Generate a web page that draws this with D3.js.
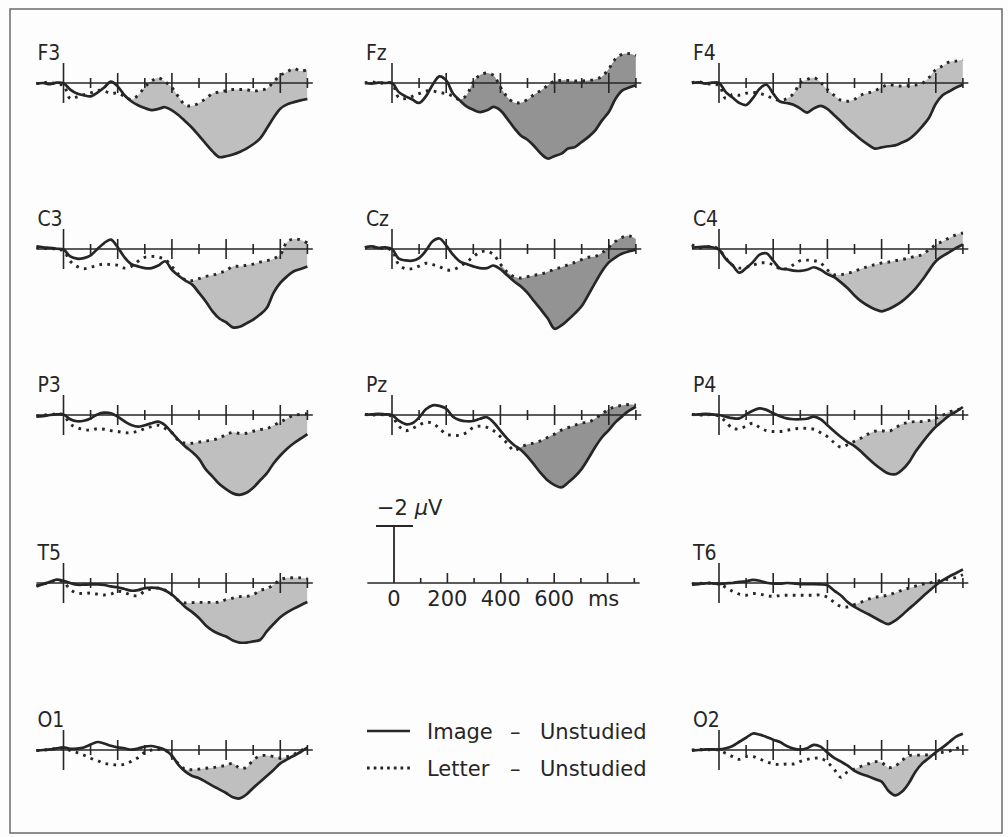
<!DOCTYPE html>
<html><head><meta charset="utf-8">
<script src="https://cdn.jsdelivr.net/npm/d3@7"></script>
<style>body{margin:0;background:#fff}</style>
</head><body><svg id="c" width="1008" height="837"></svg>
<script>
// ---------- data (µV, positive plotted downward) ----------
const times = [-100,-75,-50,-25,0,25,50,75,100,125,150,175,200,225,250,275,300,325,350,375,400,425,450,475,500,525,550,575,600,625,650,675,700,725,750,775,800,825,850,875,900];
const panelTicks = [0,100,200,300,400,500,600,700,800,900];
const majorTicks = [200,400,600,800];
const scaleTickLabels = ["0","200","400","600","ms"];
const scaleTickTimes = [0,200,400,600,800];
const channels = ["F3","Fz","F4","C3","Cz","C4","P3","Pz","P4","T5","T6","O1","O2"];
const fillStart = {F3:250,Fz:250,F4:250,C3:400,Cz:400,C4:400,P3:400,Pz:400,P4:400,T5:400,T6:400,O1:400,O2:400};
const legendLabels = ["Image", "Letter"];
const legendCondition = "Unstudied";
const scaleBarLabel = "−2 ";

const F3_image  = [0.02,0,0.04,-0.01,0.01,0.23,0.37,0.43,0.47,0.34,0.16,-0.05,0.12,0.43,0.64,0.78,0.88,0.95,0.91,0.85,0.96,1.13,1.35,1.58,1.85,2.13,2.40,2.60,2.57,2.51,2.42,2.30,2.15,1.95,1.60,1.22,0.90,0.75,0.67,0.61,0.56];
const F3_letter = [0.02,0,-0.04,0.06,0.08,0.55,0.49,0.41,0.35,0.26,0.28,0.37,0.35,0.47,0.58,0.43,0.14,-0.07,-0.18,-0.04,0.16,0.49,0.78,0.80,0.70,0.55,0.37,0.32,0.27,0.23,0.23,0.23,0.29,0.25,0.20,-0.04,-0.27,-0.39,-0.51,-0.42,-0.47];
const Fz_image  = [0,0.02,-0.01,0,0,0.32,0.47,0.58,0.70,0.47,0.06,-0.23,-0.09,0.37,0.61,0.82,0.94,1.02,0.96,0.84,0.96,1.25,1.57,1.84,1.99,2.22,2.48,2.65,2.56,2.48,2.30,2.25,2.07,1.89,1.66,1.31,1.02,0.55,0.26,0.16,0.08];
const Fz_letter = [0,-0.04,0.02,-0.02,0.02,0.51,0.55,0.47,0.37,0.28,0.28,0.34,0.37,0.47,0.58,0.43,-0.04,-0.28,-0.35,-0.26,0.14,0.49,0.68,0.69,0.58,0.40,0.26,0.08,-0.07,-0.09,-0.09,-0.07,-0.07,-0.09,-0.13,-0.23,-0.50,-0.85,-1.01,-1.03,-0.97];
const F4_image  = [0,-0.02,0.02,-0.01,0,0.32,0.51,0.70,0.77,0.53,0.20,0.06,0.37,0.65,0.70,0.76,0.90,1.04,0.89,0.80,0.91,1.13,1.35,1.59,1.79,1.99,2.16,2.30,2.26,2.22,2.19,2.09,1.98,1.78,1.52,1.22,0.73,0.43,0.29,0.16,0.06];
const F4_letter = [-0.01,-0.04,0.02,0.05,0.08,0.55,0.40,0.43,0.36,0.33,0.37,0.44,0.55,0.61,0.55,0.37,0,-0.12,-0.19,-0.02,0.23,0.43,0.61,0.64,0.57,0.42,0.35,0.27,0.15,0.06,0.09,0.11,0.09,0.07,0.01,-0.19,-0.47,-0.60,-0.74,-0.77,-0.82];
const C3_image  = [-0.09,-0.06,-0.04,-0.01,0.02,0.26,0.34,0.32,0.22,0,-0.21,-0.33,-0.06,0.29,0.53,0.61,0.67,0.67,0.58,0.43,0.73,0.94,1.11,1.25,1.54,1.84,2.19,2.44,2.57,2.75,2.73,2.61,2.48,2.30,2.07,1.54,1.19,0.96,0.78,0.70,0.61];
const C3_letter = [-0.06,-0.01,-0.04,0.02,0.06,0.43,0.61,0.69,0.64,0.57,0.53,0.55,0.57,0.67,0.61,0.43,0.29,0.26,0.29,0.37,0.61,0.90,1.08,1.11,1.04,0.96,0.92,0.84,0.76,0.61,0.61,0.57,0.53,0.46,0.41,0.34,0.20,-0.25,-0.35,-0.32,-0.21];
const Cz_image  = [-0.06,-0.09,-0.04,-0.06,0,0.34,0.40,0.41,0.32,0.06,-0.27,-0.37,-0.13,0.20,0.43,0.53,0.61,0.67,0.67,0.58,0.71,0.92,1.13,1.31,1.54,1.84,2.13,2.44,2.80,2.68,2.48,2.26,2.00,1.60,1.18,0.78,0.47,0.29,0.16,0.08,0.02];
const Cz_letter = [-0.04,-0.09,-0.01,-0.04,0.06,0.55,0.69,0.69,0.60,0.50,0.55,0.62,0.73,0.73,0.61,0.46,0.27,0.11,0.08,0.20,0.53,0.81,0.97,1.02,0.97,0.92,0.88,0.80,0.71,0.64,0.55,0.47,0.37,0.29,0.26,0.13,-0.06,-0.27,-0.41,-0.46,-0.36];
const C4_image  = [-0.04,-0.07,-0.08,-0.06,0.02,0.35,0.57,0.83,0.67,0.46,0.20,0.15,0.41,0.68,0.71,0.76,0.77,0.73,0.64,0.73,0.88,0.99,1.17,1.38,1.63,1.84,1.99,2.11,2.19,2.11,1.99,1.84,1.63,1.39,1.09,0.75,0.43,0.25,0.11,-0.04,-0.16];
const C4_letter = [-0.15,-0.04,-0.07,-0.09,0.02,0.32,0.57,0.67,0.64,0.57,0.49,0.49,0.55,0.69,0.69,0.55,0.41,0.39,0.41,0.49,0.73,0.90,0.90,0.85,0.78,0.69,0.61,0.55,0.49,0.46,0.41,0.37,0.32,0.25,0.20,0.02,-0.15,-0.27,-0.39,-0.50,-0.56];
const P3_image  = [0.06,0.04,0,-0.02,-0.02,0.15,0.22,0.20,0.12,-0.02,-0.08,-0.06,0.06,0.22,0.35,0.41,0.36,0.29,0.23,0.36,0.62,0.88,1.11,1.30,1.54,1.91,2.16,2.42,2.60,2.75,2.80,2.73,2.55,2.30,2.05,1.70,1.42,1.18,0.99,0.83,0.67];
const P3_letter = [0.04,0,0,-0.04,0,0.32,0.44,0.51,0.53,0.48,0.50,0.55,0.58,0.62,0.62,0.57,0.48,0.41,0.36,0.47,0.62,0.90,0.99,0.99,0.95,0.91,0.88,0.81,0.69,0.61,0.65,0.64,0.57,0.51,0.48,0.36,0.25,0.12,0.01,-0.02,-0.04];
const Pz_image  = [-0.02,-0.02,-0.04,-0.02,0,0.20,0.32,0.29,0.09,-0.20,-0.34,-0.32,-0.22,0.06,0.18,0.22,0.21,0.13,0.08,0.26,0.55,0.83,1.05,1.22,1.46,1.75,2.05,2.30,2.46,2.54,2.37,2.16,1.89,1.52,1.12,0.78,0.53,0.25,0.04,-0.15,-0.29];
const Pz_letter = [-0.02,0,-0.02,0,0.04,0.39,0.55,0.47,0.35,0.26,0.29,0.47,0.67,0.71,0.71,0.62,0.44,0.39,0.43,0.55,0.76,0.99,1.25,1.13,1.03,0.98,0.90,0.78,0.67,0.53,0.44,0.36,0.28,0.25,0.12,-0.04,-0.20,-0.29,-0.34,-0.37,-0.35];
const P4_image  = [-0.02,-0.02,-0.04,-0.02,0,0.06,0.11,0.12,-0.02,-0.15,-0.23,-0.18,-0.06,0.04,0.12,0.15,0.15,0.13,0.06,0.15,0.36,0.57,0.77,0.95,1.09,1.29,1.52,1.73,1.91,2.05,2.08,1.93,1.67,1.29,0.97,0.67,0.41,0.21,0.01,-0.12,-0.28];
const P4_letter = [-0.02,0,0,-0.02,0.04,0.23,0.47,0.48,0.39,0.29,0.44,0.55,0.58,0.58,0.54,0.49,0.47,0.47,0.50,0.62,0.76,0.97,1.13,1.04,0.92,0.81,0.67,0.57,0.55,0.58,0.46,0.32,0.26,0.23,0.23,0.19,0.12,0.01,-0.11,-0.18,-0.22];
const T5_image  = [0.12,0.04,-0.04,-0.12,-0.08,0,0.06,0.06,0.05,0.05,0.07,0.12,0.15,0.21,0.27,0.25,0.18,0.16,0.18,0.26,0.41,0.62,0.85,1.02,1.23,1.49,1.67,1.79,1.88,2.02,2.09,2.09,2.05,2.00,1.70,1.44,1.20,1.03,0.90,0.78,0.67];
const T5_letter = [0.09,0.04,-0.04,-0.08,-0.04,0.23,0.35,0.37,0.35,0.39,0.42,0.39,0.29,0.33,0.43,0.44,0.29,0.21,0.18,0.25,0.41,0.62,0.70,0.69,0.68,0.68,0.68,0.67,0.58,0.53,0.48,0.47,0.41,0.26,0.20,0.06,-0.11,-0.18,-0.18,-0.18,-0.15];
const T6_image  = [0.06,0.04,0.01,0.01,0.04,0.01,0,-0.04,-0.06,-0.11,-0.08,-0.01,0.02,0.02,0,0.01,0.04,0.04,0.04,0.05,0.08,0.27,0.44,0.67,0.84,0.97,1.09,1.22,1.35,1.44,1.32,1.13,0.91,0.71,0.49,0.28,0.08,-0.09,-0.23,-0.35,-0.48];
const T6_letter = [0.04,0.01,0.02,0,0.04,0.15,0.29,0.39,0.43,0.37,0.39,0.44,0.47,0.44,0.43,0.43,0.43,0.43,0.43,0.42,0.50,0.68,0.82,0.84,0.76,0.67,0.57,0.50,0.47,0.42,0.34,0.25,0.18,0.11,0.04,0,-0.05,-0.11,-0.14,-0.20,-0.29];
const O1_image  = [0.02,0,-0.02,-0.06,-0.09,-0.04,-0.05,-0.09,-0.19,-0.28,-0.23,-0.15,-0.09,-0.06,-0.01,-0.05,-0.12,-0.14,-0.09,0,0.20,0.53,0.76,0.91,0.99,1.12,1.26,1.38,1.51,1.66,1.70,1.56,1.33,1.12,0.91,0.70,0.47,0.33,0.20,0.07,-0.08];
const O1_letter = [0.02,0,-0.02,-0.05,-0.06,0.02,0.09,0.18,0.29,0.37,0.47,0.50,0.53,0.50,0.40,0.27,0.08,0,-0.02,0,0.23,0.49,0.68,0.69,0.67,0.64,0.62,0.58,0.54,0.47,0.64,0.61,0.35,0.21,0.19,0.23,0.28,0.23,0.15,0.02,-0.09];
const O2_image  = [0.02,0,-0.02,-0.02,-0.02,-0.06,-0.14,-0.29,-0.43,-0.58,-0.54,-0.46,-0.36,-0.28,-0.14,-0.05,-0.01,-0.06,-0.18,-0.12,0.09,0.28,0.41,0.55,0.73,0.84,0.92,1.02,1.11,1.43,1.59,1.46,1.17,0.76,0.47,0.28,0.08,-0.09,-0.28,-0.47,-0.57];
const O2_letter = [0,-0.02,0,-0.02,0,0.12,0.23,0.33,0.23,0.23,0.32,0.41,0.49,0.51,0.49,0.49,0.40,0.33,0.29,0.29,0.43,0.68,0.96,0.76,0.67,0.57,0.49,0.41,0.44,0.62,0.56,0.37,0.20,0.18,0.18,0.16,0.13,0.08,0.04,-0.05,-0.12];

const imageSeries = {F3:F3_image,Fz:Fz_image,F4:F4_image,C3:C3_image,Cz:Cz_image,C4:C4_image,P3:P3_image,Pz:Pz_image,P4:P4_image,T5:T5_image,T6:T6_image,O1:O1_image,O2:O2_image};
const letterSeries = {F3:F3_letter,Fz:Fz_letter,F4:F4_letter,C3:C3_letter,Cz:Cz_letter,C4:C4_letter,P3:P3_letter,Pz:Pz_letter,P4:P4_letter,T5:T5_letter,T6:T6_letter,O1:O1_letter,O2:O2_letter};

// ---------- layout / style ----------
const cellPos = {F3:[0,0],Fz:[1,0],F4:[2,0],C3:[0,1],Cz:[1,1],C4:[2,1],P3:[0,2],Pz:[1,2],P4:[2,2],T5:[0,3],T6:[2,3],O1:[0,4],O2:[2,4]};
const colX0 = [63.5, 392, 719];
const rowY0 = [83, 249, 415, 583, 750];
const PX100 = 27.1;      // px per 100 ms in panels
const PXUV = 28.5;       // px per µV
const ink = "#262626";
const fillMid = "#939393", fillSide = "#bfbfbf";
const FONT = "DejaVu Sans, sans-serif";

const svg = d3.select("#c");
svg.append("rect").attr("x",0).attr("y",0).attr("width",1008).attr("height",837).attr("fill","#fdfdfd");
svg.append("rect").attr("x",10).attr("y",9).attr("width",992).attr("height",824)
  .attr("fill","none").attr("stroke","#6a6a6a").attr("stroke-width",1.5);

const defs = svg.append("defs");

channels.forEach((ch, i) => {
  const [c, r] = cellPos[ch];
  const x0 = colX0[c], y0 = rowY0[r];
  const x = d3.scaleLinear().domain([-100, 920]).range([x0 - PX100, x0 + PX100 * 9.2]);
  const y = d3.scaleLinear().domain([-2, 0]).range([y0 - 2 * PXUV, y0]);
  const img = imageSeries[ch], let_ = letterSeries[ch];
  const pts = times.map((t, k) => ({t, a: img[k], b: let_[k]}));
  const curve = d3.curveCatmullRom.alpha(0.5);
  const g = svg.append("g");

  // fill between curves where Image is more positive (lower) than Letter, within the window
  const clipId = "clip" + i, winId = "win" + i;
  defs.append("clipPath").attr("id", clipId).append("path")
    .attr("d", d3.area().x(d => x(d.t)).y0(y0 + 200).y1(d => y(d.b)).curve(curve)(pts));
  defs.append("clipPath").attr("id", winId).append("rect")
    .attr("x", x(fillStart[ch])).attr("width", x(920) - x(fillStart[ch]))
    .attr("y", y0 - 200).attr("height", 400);
  g.append("g").attr("clip-path", `url(#${winId})`).append("path")
    .attr("d", d3.area().x(d => x(d.t)).y0(y0 - 200).y1(d => y(d.a)).curve(curve)(pts))
    .attr("clip-path", `url(#${clipId})`)
    .attr("fill", c === 1 ? fillMid : fillSide);

  // axis
  g.append("line").attr("x1", x(-100)).attr("x2", x(920)).attr("y1", y0).attr("y2", y0)
    .attr("stroke", ink).attr("stroke-width", 1.6);
  panelTicks.forEach(t => {
    const h = t === 0 ? 20 : (majorTicks.includes(t) ? 10 : 5);
    g.append("line").attr("x1", x(t)).attr("x2", x(t)).attr("y1", y0 - h).attr("y2", y0 + h)
      .attr("stroke", ink).attr("stroke-width", 1.6);
  });

  // curves
  const line = (key) => d3.line().x(d => x(d.t)).y(d => y(d[key])).curve(curve)(pts);
  g.append("path").attr("d", line("b")).attr("fill", "none").attr("stroke", ink)
    .attr("stroke-width", 2.9).attr("stroke-dasharray", "2.7 5.3");
  g.append("path").attr("d", line("a")).attr("fill", "none").attr("stroke", ink)
    .attr("stroke-width", 2.7).attr("stroke-linejoin", "round");

  g.append("text").attr("x", x(-100) + 1).attr("y", y0 - 23).text(ch)
    .attr("font-family", "DejaVu Sans Condensed, DejaVu Sans, sans-serif").attr("font-size", 21).attr("fill", ink);
});

// ---------- scale bar ----------
{
  const x0 = 394, y0 = 583;
  const x = d3.scaleLinear().domain([-100, 920]).range([x0 - 26.7, x0 + 26.7 * 9.2]);
  const y = d3.scaleLinear().domain([-2, 0]).range([y0 - 2 * PXUV, y0]);
  const g = svg.append("g");
  g.append("line").attr("x1", x(-100)).attr("x2", x(920)).attr("y1", y0).attr("y2", y0)
    .attr("stroke", ink).attr("stroke-width", 1.6);
  panelTicks.filter(t => t > 0).forEach(t => {
    const h = majorTicks.includes(t) ? 10 : 5;
    g.append("line").attr("x1", x(t)).attr("x2", x(t)).attr("y1", y0 - h).attr("y2", y0)
      .attr("stroke", ink).attr("stroke-width", 1.6);
  });
  g.append("line").attr("x1", x(0)).attr("x2", x(0)).attr("y1", y(-2)).attr("y2", y0)
    .attr("stroke", ink).attr("stroke-width", 1.8);
  g.append("line").attr("x1", x(0) - 18).attr("x2", x(0) + 19).attr("y1", y(-2)).attr("y2", y(-2))
    .attr("stroke", ink).attr("stroke-width", 1.8);
  const lab = g.append("text").attr("x", x(0) - 17).attr("y", y(-2) - 11)
    .attr("font-family", FONT).attr("font-size", 21).attr("fill", ink);
  lab.append("tspan").text(scaleBarLabel);
  lab.append("tspan").attr("font-style", "italic").text("μ");
  lab.append("tspan").text("V");
  scaleTickTimes.forEach((t, k) => {
    g.append("text").attr("x", x(t) - (k === 4 ? 4 : 0)).attr("y", 606).attr("text-anchor", "middle")
      .attr("font-family", FONT).attr("font-size", 21).attr("fill", ink).text(scaleTickLabels[k]);
  });
}

// ---------- legend ----------
{
  const g = svg.append("g");
  const rowsY = [731, 768];
  legendLabels.forEach((lab, k) => {
    const ly = rowsY[k];
    const ln = g.append("line").attr("x1", 367).attr("x2", 410).attr("y1", ly).attr("y2", ly)
      .attr("stroke", ink).attr("stroke-width", k === 0 ? 2.7 : 2.9);
    if (k === 1) ln.attr("stroke-dasharray", "2.7 4");
    const ty = ly + 8;
    g.append("text").attr("x", 427).attr("y", ty).text(lab)
      .attr("font-family", FONT).attr("font-size", 21).attr("fill", ink);
    g.append("text").attr("x", 510).attr("y", ty).text("–")
      .attr("font-family", FONT).attr("font-size", 21).attr("fill", ink);
    g.append("text").attr("x", 540).attr("y", ty).text(legendCondition)
      .attr("font-family", FONT).attr("font-size", 21).attr("fill", ink);
  });
}
</script></body></html>
